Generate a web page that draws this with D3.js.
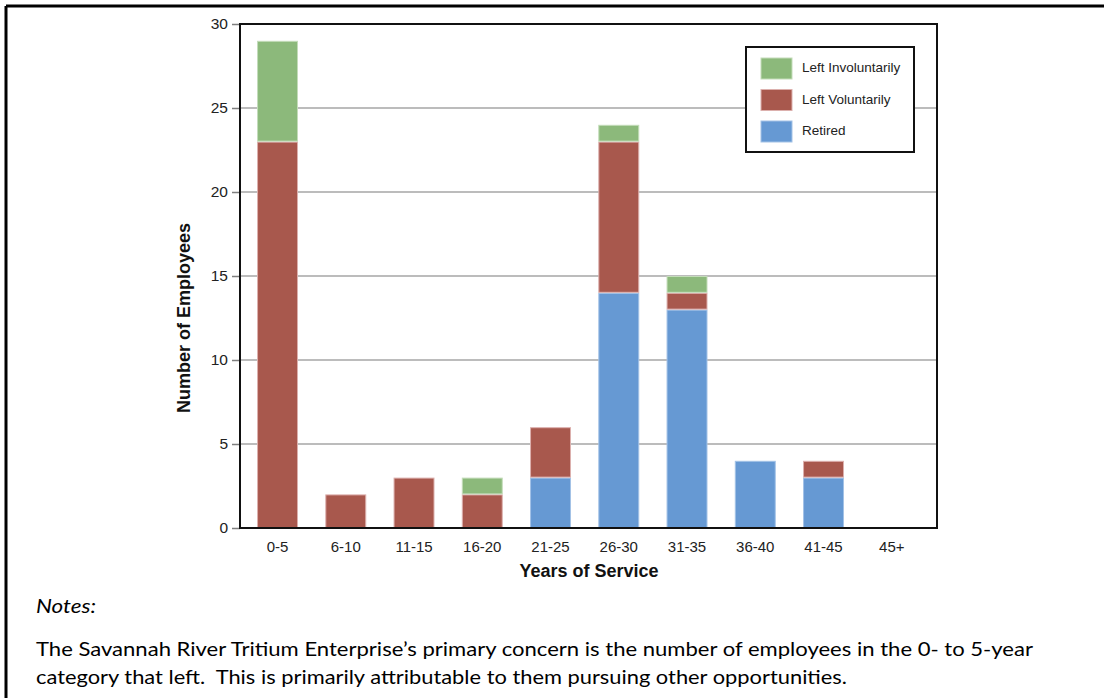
<!DOCTYPE html>
<html><head><meta charset="utf-8">
<script src="https://cdn.jsdelivr.net/npm/d3@7"></script>
<style>body{margin:0;background:#fff}svg{display:block}</style>
</head><body>
<svg id="c" width="1104" height="698"></svg>
<script>
const categories = ["0-5","6-10","11-15","16-20","21-25","26-30","31-35","36-40","41-45","45+"];
const retired     = [0, 0, 0, 0, 3, 14, 13, 4, 3, 0];
const leftVoluntarily   = [23, 2, 3, 2, 3, 9, 1, 0, 1, 0];
const leftInvoluntarily = [6, 0, 0, 1, 0, 1, 1, 0, 0, 0];
const seriesNames = ["Retired","Left Voluntarily","Left Involuntarily"];
const legendOrder = ["Left Involuntarily","Left Voluntarily","Retired"];
const yTicks = [0,5,10,15,20,25,30];
const colors = {"Retired":"#6699d3","Left Voluntarily":"#a8584d","Left Involuntarily":"#8cb97b"};
const strokes = {"Retired":"#a3c2e6","Left Voluntarily":"#dcb0ad","Left Involuntarily":"#c3dcb9"};

const svg = d3.select("#c");
const plot = {l:240, r:937, t:24, b:528};
const af = "Liberation Sans, Arial, sans-serif";

// outer cell border (top & left)
svg.append("line").attr("x1",6).attr("x2",1104).attr("y1",6).attr("y2",6).attr("stroke","#000").attr("stroke-width",3);
svg.append("line").attr("x1",6).attr("x2",6).attr("y1",6).attr("y2",698).attr("stroke","#000").attr("stroke-width",3);

const x = d3.scaleBand().domain(categories).range([243.4, 925.9]).paddingInner(0.4).paddingOuter(0.2);
const y = d3.scaleLinear().domain([0,30]).range([plot.b, plot.t]);

// gridlines
svg.append("g").selectAll("line").data(yTicks.filter(d=>d>0 && d<30)).join("line")
  .attr("x1",plot.l).attr("x2",plot.r).attr("y1",d=>y(d)).attr("y2",d=>y(d))
  .attr("stroke","#a6a6a6").attr("stroke-width",1.6);

// stacked bars
const rows = categories.map((c,i)=>({cat:c,"Retired":retired[i],"Left Voluntarily":leftVoluntarily[i],"Left Involuntarily":leftInvoluntarily[i]}));
const stack = d3.stack().keys(seriesNames)(rows);
svg.append("g").selectAll("g").data(stack).join("g")
  .attr("fill",d=>colors[d.key]).attr("stroke",d=>strokes[d.key]).attr("stroke-width",1)
  .selectAll("rect").data(d=>d.filter(s=>s[1]-s[0]>0)).join("rect")
  .attr("x",d=>x(d.data.cat)+0.5).attr("width",x.bandwidth()-1)
  .attr("y",d=>y(d[1])+0.5).attr("height",d=>y(d[0])-y(d[1])-1);

// y axis ticks & labels
const yAxis = d3.axisLeft(y).tickValues(yTicks).tickSize(8).tickPadding(4);
const gy = svg.append("g").attr("transform",`translate(${plot.l},0)`).call(yAxis);
gy.select(".domain").remove();
gy.selectAll(".tick line").attr("stroke","#7f7f7f").attr("stroke-width",1.5);
gy.selectAll(".tick text").attr("font-family",af).attr("font-size",15.5).attr("fill","#222");

// x axis labels
const xAxis = d3.axisBottom(x).tickSize(0).tickPadding(13);
const gx = svg.append("g").attr("transform",`translate(0,${plot.b})`).call(xAxis);
gx.select(".domain").remove();
gx.selectAll(".tick text").attr("font-family",af).attr("font-size",15).attr("fill","#222");

// plot frame
svg.append("rect").attr("x",plot.l).attr("y",plot.t).attr("width",plot.r-plot.l).attr("height",plot.b-plot.t)
  .attr("fill","none").attr("stroke","#111").attr("stroke-width",2);

// axis titles
svg.append("text").attr("x",589).attr("y",577).attr("text-anchor","middle")
  .attr("font-family",af).attr("font-weight","bold").attr("font-size",18).attr("fill","#111")
  .text("Years of Service");
svg.append("text").attr("transform","translate(190,318) rotate(-90)").attr("text-anchor","middle")
  .attr("font-family",af).attr("font-weight","bold").attr("font-size",18).attr("fill","#111")
  .text("Number of Employees");

// legend
const lg = svg.append("g");
lg.append("rect").attr("x",746).attr("y",47).attr("width",168).attr("height",105)
  .attr("fill","#fff").attr("stroke","#111").attr("stroke-width",2);
const li = lg.selectAll("g.item").data(legendOrder).join("g").attr("class","item")
  .attr("transform",(d,i)=>`translate(761,${58+i*31.5})`);
li.append("rect").attr("width",31).attr("height",21).attr("fill",d=>colors[d]).attr("stroke",d=>strokes[d]);
li.append("text").attr("x",41).attr("y",14).attr("font-family",af)
  .attr("font-size",13.5).attr("fill","#222").text(d=>d);

// notes
const nf = "Lato, 'Open Sans', sans-serif";
svg.append("text").attr("x",36).attr("y",613).attr("font-family",nf).attr("font-style","italic")
  .attr("font-size",19).attr("fill","#000").attr("textLength",60).attr("lengthAdjust","spacingAndGlyphs").text("Notes:");
svg.append("text").attr("x",36).attr("y",656).attr("font-family",nf).attr("font-size",19).attr("fill","#000")
  .attr("textLength",997).attr("lengthAdjust","spacingAndGlyphs")
  .text("The Savannah River Tritium Enterprise’s primary concern is the number of employees in the 0- to 5-year");
svg.append("text").attr("x",36).attr("y",684).attr("font-family",nf).attr("font-size",19).attr("fill","#000")
  .attr("xml:space","preserve").style("white-space","pre")
  .attr("textLength",811).attr("lengthAdjust","spacingAndGlyphs")
  .text("category that left.  This is primarily attributable to them pursuing other opportunities.");
</script>
</body></html>
